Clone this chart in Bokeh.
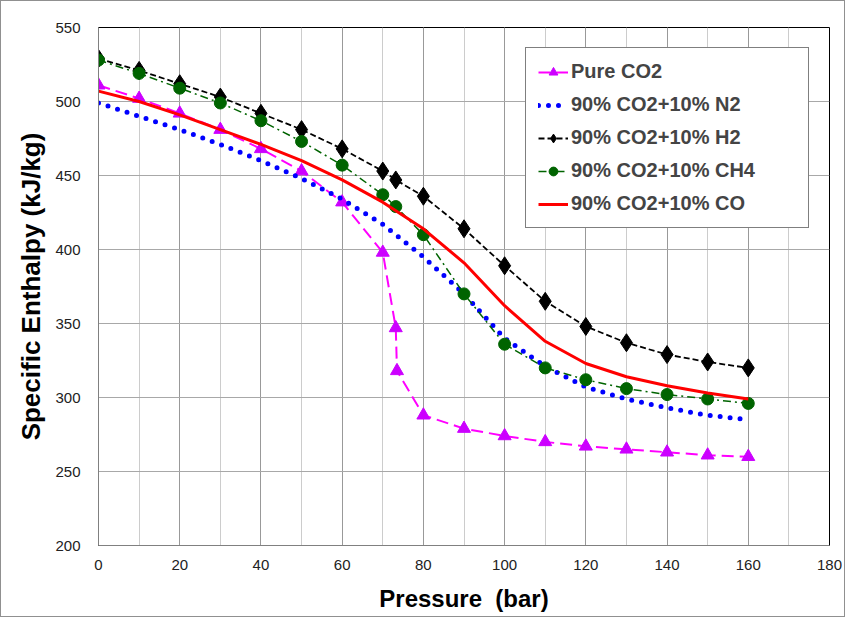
from bokeh.plotting import figure
from bokeh.models import Range1d, SingleIntervalTicker, Legend, LegendItem
from bokeh.embed import file_html
from bokeh.resources import INLINE

# Data (pressure in bar, specific enthalpy in kJ/kg)
p_co2 = [0, 10, 20, 30, 40, 50, 60, 70, 73.2, 73.5, 80, 90, 100, 110, 120, 130, 140, 150, 160]
h_co2 = [511, 502, 492, 481, 468, 453, 432, 398, 347, 318, 288, 279, 274, 270, 267, 265, 263, 261, 260]

p_n2 = [0, 10, 20, 30, 40, 50, 60, 70, 80, 90, 100, 110, 120, 130, 140, 150, 160]
h_n2 = [499, 490, 481, 471, 460, 448, 434, 417, 395, 370, 340, 321, 307, 299, 293, 288, 285]

p_h2 = [0, 10, 20, 30, 40, 50, 60, 70, 73.2, 80, 90, 100, 110, 120, 130, 140, 150, 160]
h_h2 = [529, 521, 512, 503, 492, 481, 468, 453, 447, 436, 414, 389, 365, 348, 337, 329, 324, 320]

p_ch4 = [0, 10, 20, 30, 40, 50, 60, 70, 73.2, 80, 90, 100, 110, 120, 130, 140, 150, 160]
h_ch4 = [528, 519, 509, 499, 487, 473, 457, 437, 429, 410, 370, 336, 320, 312, 306, 302, 299, 296]

p_co = [0, 10, 20, 30, 40, 50, 60, 70, 80, 90, 100, 110, 120, 130, 140, 150, 160]
h_co = [507, 500, 491, 481, 471, 460, 447, 432, 414, 391, 362, 338, 323, 314, 308, 303, 299]

labels = ["Pure CO2", "90% CO2+10% N2", "90% CO2+10% H2", "90% CO2+10% CH4", "90% CO2+10% CO"]

FONT = "Liberation Sans"

p = figure(width=845, height=617, output_backend="svg", toolbar_location=None,
           x_range=Range1d(0, 180), y_range=Range1d(200, 550),
           min_border_left=97, min_border_right=17, min_border_top=26, min_border_bottom=73)
p.styles = {"border": "1px solid #909090"}

p.xaxis.ticker = SingleIntervalTicker(interval=20, num_minor_ticks=2)
p.yaxis.ticker = SingleIntervalTicker(interval=50, num_minor_ticks=0)

for ax in (p.xaxis[0], p.yaxis[0]):
    ax.axis_line_color = "#808080"
    ax.major_tick_line_color = None
    ax.minor_tick_line_color = None
    ax.major_label_text_font = FONT
    ax.major_label_text_font_size = "15px"
    ax.major_label_text_color = "#222222"
    ax.axis_label_text_font = FONT
    ax.axis_label_text_font_style = "bold"
    ax.axis_label_text_color = "black"

p.xaxis.axis_label_text_font_size = "24px"
p.yaxis.axis_label_text_font_size = "26px"
p.xaxis.axis_label = "Pressure \u00a0(bar)"
p.yaxis.axis_label = "Specific Enthalpy (kJ/kg)"
p.xaxis.major_label_standoff = 8
p.xaxis.axis_label_standoff = 12
p.yaxis.major_label_standoff = 12
p.yaxis.axis_label_standoff = 6

p.xgrid.grid_line_color = "#999999"
p.xgrid.minor_grid_line_color = "#cccccc"
p.ygrid.grid_line_color = "#a8a8a8"
p.outline_line_color = "black"
p.outline_line_width = 1

r1 = p.line(p_co2, h_co2, line_color="#ff00ff", line_width=2, line_dash="12 6")
r1m = p.scatter(p_co2, h_co2, marker="triangle", size=13, fill_color="#cc00ff", line_color="#cc00ff")

r2 = p.line(p_n2, h_n2, line_color="#0000ff", line_width=5, line_dash="0 10", line_cap="round")

r3 = p.line(p_h2, h_h2, line_color="black", line_width=1.8, line_dash="6 3")
r3m = p.scatter(p_h2, h_h2, marker="diamond", size=18, fill_color="black", line_color="black")

r4 = p.line(p_ch4, h_ch4, line_color="#006400", line_width=1.5, line_dash="8 4 2 4")
r4m = p.scatter(p_ch4, h_ch4, marker="circle", size=12, fill_color="#006400", line_color="#006400")

r5 = p.line(p_co, h_co, line_color="#ff0000", line_width=3)

legend = Legend(items=[
    LegendItem(label=labels[0], renderers=[r1, r1m]),
    LegendItem(label=labels[1], renderers=[r2]),
    LegendItem(label=labels[2], renderers=[r3, r3m]),
    LegendItem(label=labels[3], renderers=[r4, r4m]),
    LegendItem(label=labels[4], renderers=[r5]),
], location="top_right")
legend.label_text_font = FONT
legend.label_text_font_style = "bold"
legend.label_text_font_size = "20px"
legend.border_line_color = "black"
legend.border_line_width = 1
legend.glyph_width = 30
legend.glyph_height = 22
legend.spacing = 10
legend.padding = 12
legend.margin = 20
legend.label_standoff = 3
legend.label_height = 22
legend.label_width = 225
legend.background_fill_alpha = 1
p.add_layout(legend, "center")

open("out.html", "w").write(file_html(p, INLINE))
